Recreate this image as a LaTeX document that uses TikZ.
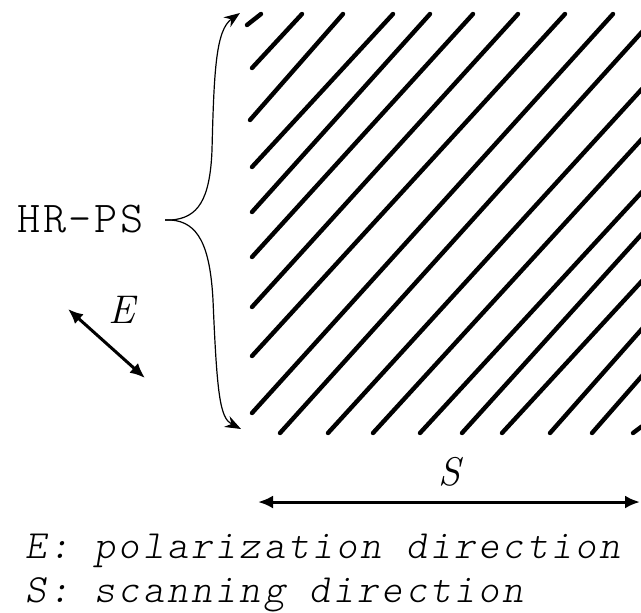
\documentclass[tikz,border=0pt]{standalone}
\usepackage{fontspec}
\newfontfamily\legendfont{lmmonolt10-regular.otf}[ItalicFont=lmmonolt10-oblique.otf,LetterSpace=8]
\newfontfamily\bracefont{lmmonolt10-regular.otf}[LetterSpace=6]
\usetikzlibrary{positioning,arrows.meta,calc}

\begin{document}
\begin{tikzpicture}[
  x=0.5pt,y=-0.5pt,
  hatch/.style={line width=2.2pt,line cap=round},
  dirarrow/.style={{Latex[length=7.5pt,width=6.5pt]}-{Latex[length=7.5pt,width=6.5pt]},line width=1.5pt},
  bracearm/.style={-{Stealth[length=8pt,width=6pt]},line width=0.6pt},
  lbl/.style={inner sep=0pt,font=\fontsize{20}{22}\selectfont\itshape},
  legend/.style={inner sep=0pt,anchor=base west,font=\fontsize{20}{22}\selectfont\legendfont\itshape}
]
\useasboundingbox (0,0) rectangle (641,612);

% hatched field, lines ending at the top edge
\foreach \xa/\ya/\xb in {247/25/261,252/68/302,250/120/343,252/167/393,252/212/430,
  252/257/473,252/307/518,252/356/565,252/413/613}
  \draw[hatch] (\xa,\ya) -- (\xb,14);
% lines leaving through the right edge
\begin{scope}
\clip (0,0) rectangle (641,612);
\foreach \xa/\yb in {280/33,328/90,373/140,420/193,462/235,502/282,550/330,592/377,633/427}
  \draw[hatch] (\xa,433) -- ($(\xa,433)!1.08!(641,\yb)$);
\end{scope}

% brace with label
\node[inner sep=0pt,anchor=west,font=\fontsize{22}{24}\selectfont\bracefont] (hrps) at (17,219) {HR-PS};
\coordinate (tip) at (165,220);
\coordinate (top) at (240,13);
\coordinate (bot) at (241,429);
\draw[bracearm] (tip) -- ++(6,0) .. controls (198,218) and (210,200) .. (212,150)
  .. controls (214,70) and (216,30) .. (top);
\draw[bracearm] (tip) -- ++(6,0) .. controls (198,222) and (210,245) .. (213,300)
  .. controls (217,395) and (220,418) .. (bot);

% polarization
\coordinate (e1) at (68,309);
\coordinate (e2) at (145,378);
\draw[dirarrow] (e1) -- (e2);
\node[lbl] (elbl) at (122,310) {E};

% scanning
\coordinate (s1) at (258,502);
\coordinate (s2) at (640,502);
\draw[dirarrow] (s1) -- (s2);
\node[lbl] (slbl) at (449,472) {S};

% legend
\node[legend] (leg1) at (25,558) {E: polarization direction};
\node[legend] (leg2) at (25,602) {S: scanning direction};
\end{tikzpicture}
\end{document}
